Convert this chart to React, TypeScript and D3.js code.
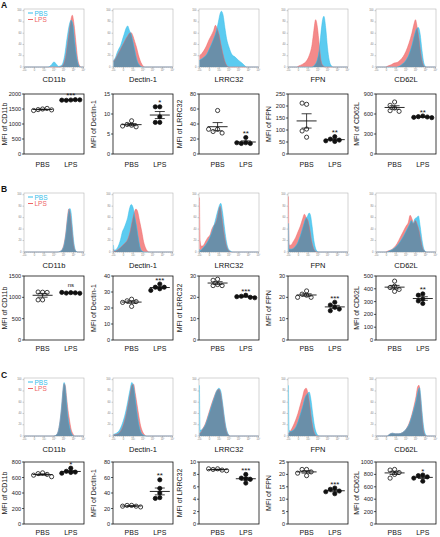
import React from "react";
import * as d3 from "d3";

// ---------------- DATA ----------------
const markers = ["CD11b", "Dectin-1", "LRRC32", "FPN", "CD62L"];
const groups = ["PBS", "LPS"];
const sectionLetters = ["A", "B", "C"];

// Histograms: [channel position (0-100 % of axis), % of max]
// Section A
const hA_CD11b_PBS = [[0,0],[40,0],[45,3],[50,9],[54,5],[58,1],[63,3],[68,20],[72,50],[76,75],[79,83],[82,75],[85,45],[88,20],[91,5],[94,0],[100,0]];
const hA_CD11b_LPS = [[0,0],[60,0],[65,3],[70,20],[74,50],[78,80],[81,92],[84,75],[87,45],[90,15],[93,3],[96,0],[100,0]];
const hA_Dectin_PBS = [[0,12],[3,16],[6,25],[9,32],[12,38],[15,48],[18,58],[21,68],[24,73],[27,65],[30,58],[33,45],[36,30],[39,15],[42,6],[45,2],[48,0],[100,0]];
const hA_Dectin_LPS = [[0,10],[3,14],[6,20],[9,26],[12,32],[15,38],[18,44],[21,50],[24,55],[27,60],[30,61],[33,55],[36,45],[39,35],[42,22],[45,12],[48,5],[51,1],[54,0],[100,0]];
const hA_LRRC32_PBS = [[0,12],[6,16],[12,22],[18,35],[24,50],[28,62],[32,80],[35,95],[37,99],[40,92],[43,70],[46,50],[50,35],[55,22],[60,18],[66,12],[72,7],[76,3],[80,0],[100,0]];
const hA_LRRC32_LPS = [[0,20],[4,24],[8,30],[12,38],[16,48],[20,56],[24,65],[27,74],[30,68],[33,58],[36,42],[40,22],[43,10],[46,3],[50,0],[100,0]];
const hA_FPN_PBS = [[0,0],[40,0],[44,3],[48,10],[52,30],[55,60],[58,85],[60,90],[63,70],[66,35],[69,12],[72,3],[76,0],[100,0]];
const hA_FPN_LPS = [[0,0],[14,0],[18,2],[24,5],[30,10],[35,20],[40,40],[43,65],[46,84],[49,70],[52,40],[55,12],[58,3],[62,0],[100,0]];
const hA_CD62L_PBS = [[0,0],[35,0],[40,2],[45,6],[50,12],[55,22],[60,38],[64,55],[68,68],[71,70],[74,58],[77,30],[80,8],[83,1],[86,0],[100,0]];
const hA_CD62L_LPS = [[0,0],[15,0],[20,2],[25,4],[30,7],[35,8],[40,12],[45,18],[50,28],[55,42],[60,60],[64,78],[66,84],[69,70],[72,50],[75,25],[78,8],[81,1],[84,0],[100,0]];
// Section B
const hB_CD11b_PBS = [[0,0],[55,0],[60,1],[64,4],[67,12],[70,30],[73,58],[75,72],[77,76],[79,68],[81,45],[83,22],[85,8],[87,2],[90,0],[100,0]];
const hB_CD11b_LPS = [[0,0],[55,0],[60,1],[64,5],[67,14],[70,33],[73,62],[75,75],[77,70],[79,55],[81,35],[83,15],[85,5],[88,1],[90,0],[100,0]];
const hB_Dectin_PBS = [[0,12],[1,3],[4,4],[8,10],[12,22],[15,35],[18,42],[21,50],[24,60],[27,75],[30,83],[33,78],[36,62],[39,45],[42,25],[45,8],[48,2],[51,0],[100,0]];
const hB_Dectin_LPS = [[0,5],[1,1],[6,3],[12,8],[18,14],[24,22],[28,35],[32,55],[35,68],[38,75],[41,70],[44,55],[48,35],[51,18],[54,8],[57,2],[60,0],[100,0]];
const hB_LRRC32_PBS = [[0,5],[1,2],[5,6],[10,12],[15,20],[20,32],[25,48],[28,60],[31,72],[34,82],[36,85],[39,70],[42,45],[45,22],[48,8],[52,2],[56,0],[100,0]];
const hB_LRRC32_LPS = [[0,95],[1,20],[3,10],[7,12],[10,18],[14,25],[18,30],[21,40],[24,46],[27,50],[30,60],[33,75],[35,80],[38,60],[42,30],[46,10],[50,2],[54,0],[100,0]];
const hB_FPN_PBS = [[0,50],[1,5],[5,5],[10,8],[15,15],[20,28],[25,45],[29,58],[32,62],[35,68],[37,65],[40,45],[43,20],[46,6],[49,1],[52,0],[100,0]];
const hB_FPN_LPS = [[0,97],[1,12],[4,12],[8,18],[12,25],[16,35],[20,45],[24,58],[27,66],[30,60],[33,55],[36,40],[39,20],[42,8],[45,2],[48,0],[100,0]];
const hB_CD62L_PBS = [[0,0],[18,0],[22,2],[28,5],[34,10],[40,18],[46,28],[52,40],[56,48],[59,55],[62,50],[65,58],[68,60],[71,63],[74,45],[77,22],[80,6],[83,1],[86,0],[100,0]];
const hB_CD62L_LPS = [[0,0],[15,0],[20,2],[25,4],[30,8],[35,15],[40,25],[45,35],[50,45],[54,52],[57,64],[60,58],[63,50],[66,55],[69,48],[72,38],[75,22],[78,8],[81,2],[84,0],[100,0]];
// Section C
const hC_CD11b_PBS = [[0,0],[50,0],[54,2],[57,8],[60,25],[63,55],[65,80],[67,95],[69,88],[71,65],[73,40],[76,18],[79,6],[82,1],[85,0],[100,0]];
const hC_CD11b_LPS = [[0,0],[50,0],[54,2],[57,8],[60,25],[63,52],[65,78],[67,93],[69,90],[71,72],[73,52],[76,30],[79,12],[82,4],[85,0],[100,0]];
const hC_Dectin_PBS = [[0,3],[5,5],[10,10],[15,22],[20,40],[24,60],[28,82],[31,95],[34,88],[37,65],[40,40],[43,20],[46,8],[50,2],[54,0],[100,0]];
const hC_Dectin_LPS = [[0,2],[5,3],[10,6],[15,15],[20,32],[24,52],[28,75],[31,90],[34,92],[37,75],[40,55],[43,35],[46,18],[50,6],[54,1],[57,0],[100,0]];
const hC_LRRC32_PBS = [[0,90],[1,10],[5,12],[10,20],[15,35],[20,52],[25,68],[29,80],[33,85],[36,80],[39,60],[42,35],[45,15],[48,5],[52,0],[100,0]];
const hC_LRRC32_LPS = [[0,5],[1,5],[5,12],[10,22],[15,38],[20,55],[25,70],[29,80],[33,83],[36,75],[39,55],[42,30],[45,12],[48,3],[52,0],[100,0]];
const hC_FPN_PBS = [[0,90],[1,10],[4,8],[8,10],[12,15],[16,25],[20,38],[24,52],[28,68],[32,75],[35,78],[38,65],[41,40],[44,18],[47,6],[50,1],[53,0],[100,0]];
const hC_FPN_LPS = [[0,5],[1,5],[4,10],[8,18],[12,28],[16,40],[20,55],[24,70],[27,82],[30,85],[33,75],[36,55],[39,30],[42,12],[45,3],[48,0],[100,0]];
const hC_CD62L_PBS = [[0,0],[18,0],[22,3],[27,5],[32,4],[38,4],[44,6],[50,12],[55,20],[60,35],[64,50],[67,62],[70,78],[73,86],[75,70],[77,45],[80,15],[83,3],[86,0],[100,0]];
const hC_CD62L_LPS = [[0,0],[18,0],[22,3],[27,5],[32,4],[38,4],[44,6],[50,12],[55,22],[60,38],[64,55],[67,70],[70,88],[72,90],[74,75],[76,50],[78,25],[80,8],[83,1],[86,0],[100,0]];

// Scatter values (MFI), 5 mice per group, per marker
const mfiA_PBS = [[1500, 1480, 1520, 1450, 1470], [8.3, 7.4, 7.2, 6.8, 7.0], [58, 33, 30, 28, 33], [207, 212, 104, 70, 96], [780, 730, 690, 650, 640]];
const mfiA_LPS = [[1800, 1790, 1810, 1795, 1805], [11.8, 11.8, 9.3, 7.9, 7.9], [22, 15, 14, 14, 15], [72, 62, 58, 55, 52], [570, 560, 555, 550, 545]];
const mfiB_PBS = [[1120, 1125, 1115, 940, 940], [25.5, 24.5, 24, 23.5, 21], [28.5, 28, 26, 25.5, 25.5], [23, 21.5, 21, 20, 20], [460, 420, 410, 395, 380]];
const mfiB_LPS = [[1110, 1100, 1105, 1115, 1095], [35, 33, 33, 32, 31], [21, 20.5, 20, 20.3, 19.8], [17.7, 16.4, 15.3, 14.5, 13.7], [360, 350, 320, 305, 285]];
const mfiC_PBS = [[660, 650, 640, 630, 610], [24, 24, 23, 23, 22], [8.9, 8.8, 8.7, 8.9, 8.6], [22, 22, 21, 20.5, 19.5], [880, 870, 830, 800, 740]];
const mfiC_LPS = [[720, 680, 670, 665, 655], [57, 46, 40, 34, 33], [8.0, 7.4, 7.3, 7.2, 6.6], [14.5, 14, 13.3, 13, 12.2], [790, 780, 760, 740, 690]];

// Y axis tick values
const ticksA = [[0, 500, 1000, 1500, 2000], [0, 5, 10, 15], [0, 20, 40, 60, 80], [0, 50, 100, 150, 200, 250], [0, 300, 600, 900]];
const ticksB = [[0, 500, 1000, 1500], [0, 10, 20, 30, 40], [0, 10, 20, 30], [0, 10, 20, 30], [0, 100, 200, 300, 400, 500]];
const ticksC = [[0, 200, 400, 600, 800], [0, 20, 40, 60, 80], [0, 2, 4, 6, 8, 10], [0, 5, 10, 15, 20, 25], [0, 200, 400, 600, 800, 1000]];

// Significance labels
const sigA = ["***", "*", "**", "**", "**"];
const sigB = ["ns", "***", "***", "***", "**"];
const sigC = ["*", "**", "***", "***", "*"];

// histogram axis tick labels
const histYTicks = [0, 20, 40, 60, 80, 100];
const histXTicks = [0, 16.7, 33.3, 50, 66.7, 83.3, 100];
const histXLabels = ["-10³", "0", "10³", "10⁴", "10⁵", "10⁶", "10⁷"];

// ---------------- TABLES ----------------
const histograms = [
  [[hA_CD11b_PBS, hA_CD11b_LPS], [hA_Dectin_PBS, hA_Dectin_LPS], [hA_LRRC32_PBS, hA_LRRC32_LPS], [hA_FPN_PBS, hA_FPN_LPS], [hA_CD62L_PBS, hA_CD62L_LPS]],
  [[hB_CD11b_PBS, hB_CD11b_LPS], [hB_Dectin_PBS, hB_Dectin_LPS], [hB_LRRC32_PBS, hB_LRRC32_LPS], [hB_FPN_PBS, hB_FPN_LPS], [hB_CD62L_PBS, hB_CD62L_LPS]],
  [[hC_CD11b_PBS, hC_CD11b_LPS], [hC_Dectin_PBS, hC_Dectin_LPS], [hC_LRRC32_PBS, hC_LRRC32_LPS], [hC_FPN_PBS, hC_FPN_LPS], [hC_CD62L_PBS, hC_CD62L_LPS]],
];
const mfi = [[mfiA_PBS, mfiA_LPS], [mfiB_PBS, mfiB_LPS], [mfiC_PBS, mfiC_LPS]];
const ticks = [ticksA, ticksB, ticksC];
const sigs = [sigA, sigB, sigC];

// ---------------- LAYOUT ----------------
const W = 440, H = 537;
const panelLefts = [24, 113, 199, 288, 376];
const panelW = 60;
const sectionLayout = [
  { letterY: 8, hTop: 9, hBot: 67, labY: 82, sTop: 94, sBot: 154, gY: 167 },
  { letterY: 192, hTop: 193, hBot: 252, labY: 268, sTop: 276, sBot: 340, gY: 351 },
  { letterY: 378, hTop: 378, hBot: 436, labY: 452, sTop: 462, sBot: 524, gY: 535 },
];
const FONT = "'Liberation Sans', Arial, Helvetica, sans-serif";
const CYAN = "#5ccbf0";
const RED = "#f48a8a";
const OVERLAP = "#6a8fa9";
const CYAN_LINE = "#35bde9";
const RED_LINE = "#ee6666";

function Histogram({ s, i }: { s: number; i: number }) {
  const L = sectionLayout[s];
  const left = panelLefts[i];
  const x = d3.scaleLinear().domain([0, 100]).range([left + 0.5, left + panelW - 0.5]);
  const y = d3.scaleLinear().domain([0, 103]).range([L.hBot, L.hTop]);
  const [pbs, lps] = histograms[s][i];
  const area = d3.area<number[]>().x(d => x(d[0])).y0(y(0)).y1(d => y(d[1])).curve(d3.curveMonotoneX);
  const line = d3.line<number[]>().x(d => x(d[0])).y(d => y(d[1])).curve(d3.curveMonotoneX);
  const clipId = `clip-${s}-${i}`;
  const minor = d3.range(0, 101, 100 / 30);
  return (
    <g>
      <defs>
        <clipPath id={clipId}>
          <path d={area(pbs) || ""} />
        </clipPath>
      </defs>
      <rect x={left} y={L.hTop} width={panelW} height={L.hBot - L.hTop} fill="#fff" stroke="#b5b5b5" strokeWidth={0.6} />
      <path d={area(lps) || ""} fill={RED} />
      <path d={area(pbs) || ""} fill={CYAN} />
      <path d={area(lps) || ""} fill={OVERLAP} clipPath={`url(#${clipId})`} />
      <path d={line(lps) || ""} fill="none" stroke={RED_LINE} strokeWidth={0.5} />
      <path d={line(pbs) || ""} fill="none" stroke={CYAN_LINE} strokeWidth={0.5} />
      {/* y ticks */}
      {histYTicks.map(t => (
        <g key={"y" + t}>
          <line x1={left - 1.5} x2={left} y1={y(t)} y2={y(t)} stroke="#888" strokeWidth={0.4} />
          <text x={left - 2.5} y={y(t)} fontSize={2.6} fill="#777" textAnchor="end" dominantBaseline="central" fontFamily={FONT}>{t}</text>
        </g>
      ))}
      {/* x ticks */}
      {minor.map((t, k) => (
        <line key={"m" + k} x1={x(t)} x2={x(t)} y1={L.hBot} y2={L.hBot + 0.8} stroke="#999" strokeWidth={0.3} />
      ))}
      {histXTicks.map((t, k) => (
        <g key={"x" + k}>
          <line x1={x(t)} x2={x(t)} y1={L.hBot} y2={L.hBot + 1.6} stroke="#888" strokeWidth={0.4} />
          <text x={x(t)} y={L.hBot + 4} fontSize={2.6} fill="#777" textAnchor="middle" fontFamily={FONT}>{histXLabels[k]}</text>
        </g>
      ))}
      <text x={left + panelW / 2} y={L.labY} fontSize={7.5} textAnchor="middle" fill="#111" fontFamily={FONT}>{markers[i]}</text>
      {i === 0 && (
        <g fontFamily={FONT} fontSize={6.5}>
          <line x1={left + 4} x2={left + 9} y1={L.hTop + 4} y2={L.hTop + 4} stroke={CYAN_LINE} strokeWidth={1} />
          <text x={left + 10.5} y={L.hTop + 4} dominantBaseline="central" fill={CYAN_LINE}>{groups[0]}</text>
          <line x1={left + 4} x2={left + 9} y1={L.hTop + 10.5} y2={L.hTop + 10.5} stroke={RED_LINE} strokeWidth={1} />
          <text x={left + 10.5} y={L.hTop + 10.5} dominantBaseline="central" fill={RED_LINE}>{groups[1]}</text>
        </g>
      )}
    </g>
  );
}

function beeswarm(vals: number[], y: (v: number) => number, cx: number, r: number) {
  const placed: { x: number; y: number }[] = [];
  const step = 2 * r + 0.3;
  const cands = [0, -1, 1, -2, 2, -3, 3, -4, 4].map(k => k * step);
  return vals.map(v => {
    const cy = y(v);
    for (const o of cands) {
      const px = cx + o;
      if (placed.every(p => Math.hypot(p.x - px, p.y - cy) >= 2 * r)) {
        placed.push({ x: px, y: cy });
        return { x: px, y: cy };
      }
    }
    placed.push({ x: cx, y: cy });
    return { x: cx, y: cy };
  });
}

function Scatter({ s, i }: { s: number; i: number }) {
  const L = sectionLayout[s];
  const left = panelLefts[i];
  const tk = ticks[s][i];
  const y = d3.scaleLinear().domain([0, tk[tk.length - 1]]).range([L.sBot, L.sTop]);
  const xg = d3.scalePoint<string>().domain(groups).range([left + 0.31 * panelW, left + 0.78 * panelW]);
  const r = 2.1;
  const sets = mfi[s].map(g => g[i]);
  const lpsTop = d3.min(sets[1].map(v => y(v))) as number;
  return (
    <g fontFamily={FONT}>
      <rect x={left} y={L.sTop} width={panelW} height={L.sBot - L.sTop} fill="none" stroke="#111" strokeWidth={0.8} />
      {tk.map(t => (
        <g key={t}>
          <line x1={left - 2} x2={left} y1={y(t)} y2={y(t)} stroke="#111" strokeWidth={0.7} />
          <text x={left - 2.8} y={y(t)} fontSize={5.6} textAnchor="end" dominantBaseline="central" fill="#222">{t}</text>
        </g>
      ))}
      <text transform={`translate(${left - 17},${(L.sTop + L.sBot) / 2}) rotate(-90)`} fontSize={7} textAnchor="middle" fill="#222">{`MFI of ${markers[i]}`}</text>
      {groups.map((g, gi) => {
        const cx = xg(g) as number;
        const vals = sets[gi];
        const m = d3.mean(vals) as number;
        const sem = (d3.deviation(vals) as number) / Math.sqrt(vals.length);
        const pts = beeswarm(vals, y, cx, r);
        return (
          <g key={g}>
            <text x={cx} y={L.gY} fontSize={7} textAnchor="middle" fill="#111">{g}</text>
            {pts.map((p, k) => (
              <circle key={k} cx={p.x} cy={p.y} r={r} fill={gi === 0 ? "#fff" : "#111"} stroke="#111" strokeWidth={0.8} />
            ))}
            <line x1={cx - 10} x2={cx + 10} y1={y(m)} y2={y(m)} stroke="#111" strokeWidth={0.9} />
            <line x1={cx} x2={cx} y1={y(m - sem)} y2={y(m + sem)} stroke="#111" strokeWidth={0.8} />
            <line x1={cx - 5} x2={cx + 5} y1={y(m + sem)} y2={y(m + sem)} stroke="#111" strokeWidth={0.8} />
            <line x1={cx - 5} x2={cx + 5} y1={y(m - sem)} y2={y(m - sem)} stroke="#111" strokeWidth={0.8} />
          </g>
        );
      })}
      <text x={xg("LPS") as number} y={lpsTop - (sigs[s][i] === "ns" ? 5 : 1.5)} fontSize={sigs[s][i] === "ns" ? 6 : 8} textAnchor="middle" fill="#111">{sigs[s][i]}</text>
    </g>
  );
}

export default function App() {
  return (
    <svg width={W} height={H} viewBox={`0 0 ${W} ${H}`} style={{ position: "absolute", left: 0, top: 0, background: "#fff" }}>
      <rect width={W} height={H} fill="#fff" />
      {sectionLetters.map((letter, s) => (
        <g key={letter}>
          <text x={1} y={sectionLayout[s].letterY} fontSize={8.5} fontWeight="bold" fontFamily={FONT} fill="#111">{letter}</text>
          {markers.map((m, i) => (
            <g key={m}>
              <Histogram s={s} i={i} />
              <Scatter s={s} i={i} />
            </g>
          ))}
        </g>
      ))}
    </svg>
  );
}
